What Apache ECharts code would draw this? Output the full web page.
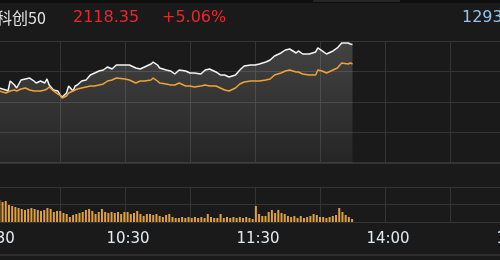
<!DOCTYPE html>
<html>
<head>
<meta charset="utf-8">
<script src="https://cdn.jsdelivr.net/npm/echarts@6/dist/echarts.min.js"></script>
<style>
  html, body { margin: 0; padding: 0; background: #1a1a1a; }
  #chart { width: 500px; height: 260px; }
</style>
</head>
<body>
<div id="chart"></div>
<script>
// trading minutes since 9:30 (11:30 and 13:00 share minute 120)
const priceMinutes = [0, 2, 5, 6, 7, 9, 10, 12, 14, 16, 18, 19, 21, 23, 24, 25, 27, 29, 30, 31, 33, 34, 36, 37, 38, 40, 42, 44, 46, 48, 50, 52, 54, 56, 60, 62, 65, 67, 69, 72, 73, 75, 76, 79, 81, 83, 85, 88, 90, 92, 95, 97, 99, 102, 104, 106, 108, 111, 113, 115, 118, 120, 122, 125, 127, 129, 132, 134, 136, 139, 140, 142, 145, 148, 149, 151, 153, 156, 158, 160, 163, 164, 165];
// 科创50 index
const indexPrices = [2043.0, 2041.2, 2037.6, 2035.9, 2053.6, 2046.5, 2041.2, 2055.4, 2057.2, 2058.9, 2053.6, 2050.1, 2053.6, 2050.1, 2057.2, 2046.5, 2037.6, 2035.9, 2028.8, 2025.2, 2032.3, 2044.7, 2035.9, 2044.7, 2046.5, 2053.6, 2055.4, 2064.3, 2067.8, 2071.4, 2073.1, 2078.5, 2074.9, 2082.0, 2082.0, 2082.0, 2076.7, 2074.9, 2078.5, 2083.8, 2087.3, 2082.0, 2076.7, 2073.1, 2071.4, 2066.0, 2073.1, 2071.4, 2067.8, 2067.8, 2066.0, 2073.1, 2074.9, 2069.6, 2064.3, 2064.3, 2060.7, 2064.3, 2073.1, 2080.2, 2082.0, 2082.0, 2083.8, 2087.3, 2090.9, 2098.0, 2103.3, 2108.6, 2110.4, 2103.3, 2106.9, 2101.5, 2101.5, 2105.1, 2112.2, 2106.9, 2101.5, 2106.9, 2112.2, 2121.0, 2121.0, 2119.3, 2118.35];
// average price line
const avgPrices = [2037.6, 2035.9, 2032.3, 2034.1, 2035.9, 2037.6, 2035.9, 2039.4, 2041.2, 2037.6, 2035.9, 2035.9, 2035.9, 2037.6, 2039.4, 2043.0, 2035.9, 2030.5, 2028.8, 2023.4, 2027.0, 2032.3, 2035.9, 2037.6, 2039.4, 2041.2, 2043.0, 2044.7, 2044.7, 2046.5, 2048.3, 2053.6, 2055.4, 2058.9, 2057.2, 2055.4, 2050.1, 2053.6, 2053.6, 2055.4, 2058.9, 2053.6, 2050.1, 2048.3, 2046.5, 2046.5, 2050.1, 2044.7, 2044.7, 2043.0, 2044.7, 2046.5, 2044.7, 2044.7, 2041.2, 2037.6, 2035.9, 2041.2, 2048.3, 2051.8, 2053.6, 2053.6, 2053.6, 2055.4, 2057.2, 2064.3, 2067.8, 2071.4, 2073.1, 2069.6, 2069.6, 2066.0, 2064.3, 2064.3, 2073.1, 2071.4, 2067.8, 2073.1, 2076.7, 2085.6, 2083.8, 2085.6, 2083.8];
// volume bars, one every 1.48 trading minutes starting at minute 2
const volumes = [22, 20, 21, 17, 16, 15, 14, 13, 12, 13, 14, 13, 12, 11, 12, 14, 13, 10, 11, 11, 9, 8, 5, 7, 8, 9, 10, 12, 13, 11, 8, 10, 13, 10, 9, 10, 9, 10, 8, 10, 10, 8, 9, 11, 8, 6, 8, 8, 7, 8, 6, 5, 7, 8, 5, 4,
  4, 5, 4, 5, 4, 5, 4, 5, 4, 8, 5, 4, 4, 8, 4, 5, 4, 5, 4, 5, 4, 5, 4, 3, 16, 8, 6, 6, 10, 12, 9, 12, 9, 8, 6, 5, 6, 4, 6, 4, 5, 6, 8, 7, 5, 5, 4, 5, 6, 7, 14, 10, 7, 5, 3];
const volStart = 2, volStep = 1.48;
const tickLabels = { 0: '9:30', 60: '10:30', 120: '11:30', 180: '14:00', 240: '15:00' };
const prevClose = 2016.33;
const priceSpan = 108.25;

const gridColor = '#343434';
const indexData = priceMinutes.map((m, i) => [m, indexPrices[i]]);
const avgData = priceMinutes.map((m, i) => [m, avgPrices[i]]);
const volData = volumes.map((v, i) => [volStart + i * volStep, v]);

const chart = echarts.init(document.getElementById('chart'));

const xBase = {
  type: 'value', min: 0, max: 240, interval: 30,
  axisTick: { show: false },
  splitLine: { show: true, lineStyle: { color: gridColor, width: 1 } }
};

chart.setOption({
  backgroundColor: '#1a1a1a',
  animation: false,
  grid: [
    { left: -5, right: -15, top: 41, height: 122, containLabel: false, outerBoundsMode: 'none' },
    { left: -5, right: -15, top: 187, height: 35, containLabel: false, outerBoundsMode: 'none' }
  ],
  xAxis: [
    Object.assign({}, xBase, {
      gridIndex: 0,
      axisLabel: { show: false },
      axisLine: { show: true, lineStyle: { color: gridColor, width: 2 } }
    }),
    Object.assign({}, xBase, {
      gridIndex: 1,
      axisLine: { show: true, lineStyle: { color: gridColor, width: 1 } },
      axisLabel: {
        show: true, margin: 10, hideOverlap: false,
        showMinLabel: true, showMaxLabel: true,
        padding: [0, 0, 0, 6],
        color: '#e2eaf2', fontSize: 15, fontFamily: 'DejaVu Sans',
        formatter: v => tickLabels[v] || ''
      }
    })
  ],
  yAxis: [
    { type: 'value', gridIndex: 0, min: prevClose - priceSpan, max: prevClose + priceSpan, show: false, splitLine: { show: false } },
    { type: 'value', gridIndex: 0, min: 0, max: 4, interval: 1,
      axisLine: { show: false }, axisTick: { show: false }, axisLabel: { show: false },
      splitLine: { show: true, lineStyle: { color: gridColor } } },
    { type: 'value', gridIndex: 1, min: 0, max: 35, interval: 17.5,
      axisLine: { show: false }, axisTick: { show: false }, axisLabel: { show: false },
      splitLine: { show: true, lineStyle: { color: gridColor } } }
  ],
  series: [
    {
      type: 'line', xAxisIndex: 0, yAxisIndex: 0,
      data: indexData, symbol: 'none', silent: true,
      lineStyle: { color: '#f4f4f4', width: 1.5 },
      areaStyle: {
        origin: 'start',
        color: new echarts.graphic.LinearGradient(0, 0, 0, 1, [
          { offset: 0, color: 'rgba(255,255,255,0.25)' },
          { offset: 1, color: 'rgba(255,255,255,0.07)' }
        ])
      },
      z: 2
    },
    {
      type: 'line', xAxisIndex: 0, yAxisIndex: 0,
      data: avgData, symbol: 'none', silent: true,
      lineStyle: { color: '#f0a236', width: 1.5 },
      z: 3
    },
    {
      type: 'bar', xAxisIndex: 1, yAxisIndex: 2,
      data: volData, barWidth: 2, silent: true,
      itemStyle: { color: '#e0a040' }
    }
  ],
  graphic: [
    { type: 'rect', left: 0, top: 0, shape: { width: 500, height: 3 }, style: { fill: '#0e0e0e' } },
    { type: 'rect', left: 313, top: 0, shape: { width: 87, height: 2 }, style: { fill: '#262626' } },
    { type: 'rect', left: 0, top: 254, shape: { width: 500, height: 2 }, style: { fill: '#2c2c2c' } },
    { type: 'text', left: -4, top: 10, style: { text: '科创50', fill: '#e2e2e2', font: '16px "Noto Sans CJK SC", sans-serif' } },
    { type: 'text', left: 73, top: 10, style: { text: '2118.35', fill: '#e8282e', font: '16px "DejaVu Sans"' } },
    { type: 'text', left: 162, top: 10, style: { text: '+5.06%', fill: '#e8282e', font: '16px "DejaVu Sans"' } },
    { type: 'text', left: 462, top: 10, style: { text: '1293', fill: '#93c4ef', font: '16px "DejaVu Sans"' } }
  ]
});
</script>
</body>
</html>
